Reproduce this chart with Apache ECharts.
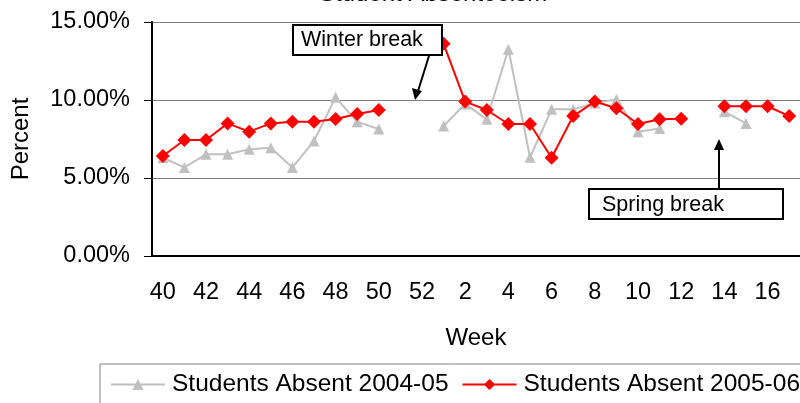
<!DOCTYPE html>
<html>
<head>
<meta charset="utf-8">
<script src="https://cdn.jsdelivr.net/npm/echarts@6/dist/echarts.min.js"></script>
<style>html,body{margin:0;padding:0;background:#fff;}#c{width:800px;height:403px;}</style>
</head>
<body>
<div id="c"></div>
<script>
const weeks = ['40','41','42','43','44','45','46','47','48','49','50','51','52','1','2','3','4','5','6','7','8','9','10','11','12','13','14','15','16','17'];
const absent0405 = [6.3,5.68,6.52,6.52,6.84,6.94,5.68,7.37,10.17,8.6,8.14,null,null,8.33,9.75,8.76,13.25,6.33,9.4,9.4,9.8,10.04,7.97,8.18,null,null,9.25,8.5,null,null];
const absent0506 = [6.41,7.44,7.44,8.5,7.97,8.5,8.6,8.6,8.78,9.1,9.36,null,null,13.6,9.9,9.36,8.46,8.46,6.3,8.97,9.9,9.47,8.46,8.76,8.8,null,9.6,9.6,9.6,8.97];
const yTicks = [0, 5, 10, 15];

const FONT = 'Liberation Sans, Arial, sans-serif';
const chart = echarts.init(document.getElementById('c'), null, {renderer: 'canvas'});
chart.setOption({
  animation: false,
  backgroundColor: '#fff',
  textStyle: {fontFamily: FONT},
  title: {
    text: 'Student Absenteeism',
    left: 314, top: -23,
    textStyle: {fontFamily: FONT, fontSize: 24, fontWeight: 'normal', color: '#000'}
  },
  grid: {left: 152, top: 22, bottom: 147, right: -9},
  xAxis: {
    type: 'category',
    data: weeks,
    boundaryGap: true,
    name: 'Week',
    nameLocation: 'middle',
    nameGap: 70,
    nameTextStyle: {fontFamily: FONT, fontSize: 24, color: '#000'},
    axisLine: {lineStyle: {color: '#000', width: 2}},
    axisTick: {interval: 0, length: 7, lineStyle: {color: '#000', width: 1}},
    axisLabel: {interval: 1, margin: 25, fontFamily: FONT, fontSize: 23.5, color: '#000'},
    splitLine: {show: false}
  },
  yAxis: {
    type: 'value',
    min: yTicks[0], max: yTicks[yTicks.length - 1], interval: 5,
    name: 'Percent',
    nameLocation: 'middle',
    nameGap: 119,
    nameTextStyle: {fontFamily: FONT, fontSize: 24, color: '#000'},
    axisLine: {show: true, lineStyle: {color: '#000', width: 2}},
    axisTick: {show: true, length: 8, lineStyle: {color: '#000', width: 1}},
    axisLabel: {margin: 22, fontFamily: FONT, fontSize: 23.5, color: '#000',
      formatter: v => v.toFixed(2) + '%'},
    splitLine: {show: true, lineStyle: {color: '#808080', width: 1}}
  },
  legend: {
    left: 100, top: 364, width: 740,
    padding: [8, 10, 8, 10],
    borderColor: '#808080', borderWidth: 1,
    itemWidth: 54, itemHeight: 14, itemGap: 13,
    textStyle: {fontFamily: FONT, fontSize: 24.5, color: '#000', padding: [0,0,0,2]},
    data: ['Students Absent 2004-05', 'Students Absent 2005-06']
  },
  series: [
    {
      name: 'Students Absent 2004-05',
      type: 'line',
      data: absent0405,
      connectNulls: false,
      symbol: 'triangle', symbolSize: 11,
      lineStyle: {color: '#c0c0c0', width: 2},
      itemStyle: {color: '#c0c0c0'},
      z: 2
    },
    {
      name: 'Students Absent 2005-06',
      type: 'line',
      data: absent0506,
      connectNulls: false,
      symbol: 'diamond', symbolSize: 14,
      lineStyle: {color: '#ff0000', width: 2},
      itemStyle: {color: '#ff0000'},
      z: 3
    }
  ],
  graphic: [
    {type: 'rect', z: 10, shape: {x: 293, y: 25, width: 149, height: 30},
     style: {fill: '#fff', stroke: '#000', lineWidth: 2}},
    {type: 'text', z: 11, x: 301, y: 40,
     style: {text: 'Winter break', fontFamily: FONT, fontSize: 21.5, fill: '#000', verticalAlign: 'middle'}},
    {type: 'line', z: 10, shape: {x1: 429, y1: 56, x2: 418, y2: 91},
     style: {stroke: '#000', lineWidth: 2}},
    {type: 'polygon', z: 10, shape: {points: [[415, 100], [412, 88], [422, 91]]},
     style: {fill: '#000'}},
    {type: 'rect', z: 10, shape: {x: 589, y: 189, width: 194, height: 30},
     style: {fill: '#fff', stroke: '#000', lineWidth: 2}},
    {type: 'text', z: 11, x: 602, y: 205,
     style: {text: 'Spring break', fontFamily: FONT, fontSize: 21.5, fill: '#000', verticalAlign: 'middle'}},
    {type: 'line', z: 10, shape: {x1: 719, y1: 189, x2: 719, y2: 148},
     style: {stroke: '#000', lineWidth: 2}},
    {type: 'polygon', z: 10, shape: {points: [[719, 139], [714, 150], [724, 150]]},
     style: {fill: '#000'}}
  ]
});
</script>
</body>
</html>
